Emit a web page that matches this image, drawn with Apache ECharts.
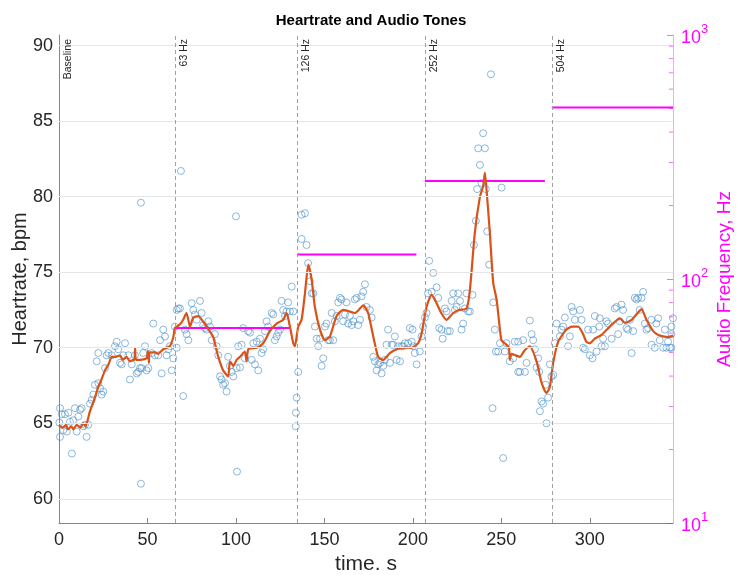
<!DOCTYPE html>
<html><head><meta charset="utf-8">
<script src="https://cdn.jsdelivr.net/npm/echarts@6/dist/echarts.min.js"></script>
<style>html,body{margin:0;padding:0;background:#fff}#c{width:739px;height:575px}</style>
</head><body><div id="c"></div>
<script>
// ---- data ----
const hrTime = [0.2,0.6,0.6,1.5,2.4,3.4,4.4,5.3,6.2,7.3,8.1,9.0,10.0,10.9,11.9,12.8,13.7,14.7,15.6,16.6,17.5,18.5,19.4,20.3,21.3,22.2,22.2,23.2,24.1,25.0,26.0,26.9,27.9,29.8,31.6,32.6,33.5,34.5,35.4,36.3,37.3,39.2,40.1,41.1,42.9,43.9,44.8,45.8,46.3,46.3,46.7,47.6,48.6,49.5,50.5,52.4,53.3,54.2,56.1,57.1,58.0,58.9,59.9,60.8,61.8,62.7,63.7,64.6,65.5,66.5,66.5,67.4,68.4,68.9,70.2,71.2,72.1,73.1,75.0,75.9,76.8,77.8,79.7,80.6,81.5,82.5,83.4,84.4,85.3,86.3,88.1,89.1,90.0,91.0,91.9,92.8,93.8,94.7,95.6,96.6,97.6,98.5,100.0,100.4,100.6,101.3,102.3,103.2,104.1,105.1,106.9,107.9,108.9,109.8,110.7,111.7,112.6,113.6,114.5,115.4,116.4,117.3,118.2,120.2,121.1,122.0,123.0,123.9,124.9,125.8,126.7,127.7,128.6,129.5,130.5,131.5,132.4,133.8,133.9,134.3,135.2,137.1,137.1,139.0,139.9,140.8,141.8,142.8,143.7,144.6,145.6,146.5,147.5,148.4,149.3,150.3,151.2,152.1,153.1,154.1,155.0,155.9,156.9,157.8,158.8,159.7,160.6,161.6,162.5,163.4,164.4,165.4,166.3,167.2,168.2,169.1,170.1,171.0,171.9,172.9,173.8,175.7,176.7,177.6,178.5,179.5,180.4,181.4,182.3,183.2,184.2,185.1,186.0,187.0,188.0,188.9,189.8,190.8,191.7,192.7,193.6,194.5,195.5,197.3,198.3,199.3,199.8,200.2,201.1,202.1,203.9,204.9,205.8,206.8,207.7,208.6,209.2,210.6,211.5,213.4,214.3,214.9,216.2,216.8,218.1,219.0,219.6,220.9,221.9,222.8,223.7,224.7,225.6,226.6,227.5,228.4,229.4,230.3,231.2,232.2,233.7,234.5,235.6,236.3,236.9,237.9,238.8,239.7,240.7,241.2,242.0,243.1,244.1,245.0,245.4,246.3,246.9,248.2,249.2,250.1,251.0,252.0,252.9,254.8,256.7,257.6,259.5,259.5,260.5,262.3,263.3,264.2,266.1,267.1,268.0,268.9,269.9,270.8,271.4,271.8,272.7,273.6,275.0,275.5,276.4,277.4,278.3,279.3,280.2,281.2,283.1,284.0,284.9,285.9,287.7,288.7,289.7,290.6,291.5,294.4,295.3,296.2,297.2,299.0,300.0,301.5,301.9,302.8,303.8,305.3,305.6,306.6,307.5,308.5,309.4,310.3,312.3,314.1,315.1,316.0,316.9,317.9,318.8,320.7,321.6,322.6,323.6,324.5,325.4,326.4,327.3,328.2,329.2,330.1,331.1,332.0,332.9,334.9,334.9,336.7,337.6,338.6,339.5,341.4,342.4,343.3,344.2,345.2,346.1,346.1,346.1,347.0];
const hrValue = [65.05,66.0,64.1,65.6,64.55,65.6,64.45,65.7,65.1,63.0,65.2,66.0,64.45,65.45,65.9,66.0,64.8,64.9,64.1,64.9,66.3,66.55,66.9,67.55,69.1,67.65,69.65,67.3,66.9,67.1,68.65,69.5,69.65,69.5,70.1,70.4,69.9,69.0,68.9,69.5,70.3,69.5,67.9,68.9,69.5,68.3,68.4,68.65,79.6,61.0,68.65,69.65,70.1,68.5,68.65,69.65,71.6,69.5,69.5,70.5,68.3,71.2,70.75,69.5,69.9,70.1,68.5,69.3,71.4,70.0,72.5,72.6,72.6,81.7,66.8,71.2,70.9,70.5,72.95,72.5,72.2,71.85,73.1,72.3,71.5,71.3,71.2,71.75,71.4,70.5,70.9,70.1,69.5,68.1,67.9,67.55,67.65,67.1,69.4,68.8,68.4,68.1,78.7,68.65,61.8,70.1,68.7,70.2,71.3,69.3,71.1,71.0,69.2,70.3,68.9,70.4,68.5,70.6,69.65,69.9,71.1,71.75,71.4,72.3,72.2,70.5,70.75,71.0,71.2,73.1,72.5,72.1,72.4,73.0,72.4,74.05,72.4,64.8,65.7,66.7,68.4,78.8,77.2,78.9,76.8,75.6,74.4,73.6,73.6,71.4,70.6,70.1,70.6,68.8,69.3,71.4,71.6,70.5,70.5,72.3,70.5,71.75,72.1,73.0,73.3,73.2,71.75,72.2,73.0,71.6,72.1,71.5,71.75,73.2,73.3,71.5,71.85,73.4,73.7,74.2,72.7,72.5,72.0,69.4,69.1,68.5,68.9,69.0,68.3,68.8,69.2,70.2,71.2,69.0,70.2,70.2,70.75,69.2,70.1,69.1,70.1,70.1,70.3,70.3,71.3,70.4,71.2,70.1,69.65,68.9,69.75,70.75,71.4,72.0,72.3,73.6,75.75,73.7,74.95,74.0,73.3,71.3,71.2,70.6,72.6,72.4,71.1,71.1,73.1,73.6,72.5,72.7,73.6,73.1,71.2,71.6,72.6,73.6,72.4,72.4,73.5,76.8,78.4,80.5,83.2,82.1,80.9,84.2,83.2,80.5,77.7,75.5,88.1,66.0,73.0,71.2,69.75,69.75,70.3,80.6,62.7,69.75,70.3,69.1,69.3,70.4,70.4,68.4,68.4,70.5,68.4,69.0,71.8,70.9,70.5,69.9,68.7,69.3,68.4,65.8,66.45,66.3,67.55,65.0,66.7,68.9,68.1,68.2,70.3,71.6,70.75,71.2,71.4,72.0,70.1,70.75,72.7,72.4,71.85,72.5,71.85,70.0,69.9,71.2,69.5,69.3,71.2,72.1,69.75,71.4,71.95,70.1,70.6,70.1,71.75,71.6,70.6,72.6,72.7,70.9,71.75,72.85,72.5,71.3,71.2,71.85,69.65,71.1,73.3,73.2,73.3,72.5,73.3,73.7,71.6,71.2,71.3,71.85,70.2,70.0,71.6,71.95,70.5,70.0,71.2,70.0,70.4,70.0,70.0,71.4,70.9,71.95];

const smoothTime = [0,2,4,5,7,8,10,12,13.7,15,17.5,20,22.2,24,26,28,29.8,32,34.5,36,38.2,40,42,42.6,43,43.5,46,49.5,50.3,50.8,51.3,54.2,56,58.9,61,62.7,64.6,65.5,68,70.2,72,73,74,75.9,78.7,81,83.4,87.2,88.5,90,92.8,95.6,96.6,98.5,100.4,102.3,105,106,107,111.7,115.4,119.2,123,126.7,128.6,130.5,132.4,133.3,135.2,137.1,139,140.9,142.8,144.6,147.5,150.3,153.1,156.9,160.6,164.4,167.2,172,174.7,177.6,180.4,183.2,187,190.8,194.5,199.3,203,205,207.7,210.6,213.4,216,219,222.8,226,230.3,232.2,235,237.9,239.7,240.7,241.6,243.5,245.4,247.3,249.2,250.1,252.9,254.3,254.8,255.8,258,260.5,263,266.1,269.9,272.7,275.5,277.4,279.3,282.1,286.8,290,293.4,296.2,298,300,302.8,306.6,311.3,317,319.8,323.6,327,329.2,332,335.8,338.6,341.4,344,347];
const smoothValue = [64.9,64.7,64.9,64.6,64.8,64.6,64.9,64.7,65.0,64.8,65.8,66.6,67.4,67.9,68.5,68.9,69.4,69.4,69.5,69.2,69.4,69.1,69.2,69.2,70.0,69.2,69.2,69.3,69.8,69.0,69.7,69.7,69.6,69.9,70.0,70.1,70.7,71.3,71.5,71.85,72.3,71.9,71.4,72.0,72.1,71.8,71.4,70.7,70.1,69.4,68.5,68.1,69.1,68.8,69.2,69.4,69.75,69.1,69.9,70.0,70.3,71.1,71.6,71.85,72.3,71.4,70.3,70.1,71.4,71.85,73.6,75.5,74.5,72.7,71.2,70.5,70.75,72.1,72.5,72.4,72.3,72.8,72.3,70.75,69.4,69.2,69.65,69.9,70.0,70.0,70.3,71.0,72.7,73.5,72.95,72.3,71.85,72.3,72.5,72.6,73.8,77.6,80.0,80.7,81.6,80.5,77.6,74.3,73.2,71.2,70.5,70.2,70.0,69.2,69.6,69.5,69.4,69.8,70.1,69.1,67.7,67.0,67.4,69.0,70.4,71.2,71.4,71.4,70.9,70.4,70.3,70.6,70.85,71.4,71.95,71.65,71.85,72.3,72.55,71.85,71.1,70.85,70.75,70.7,70.8];

const toneStart = [65.5, 134.5, 206.8, 278.5];
const toneEnd   = [130.5, 202.0, 274.6, 347.0];
const toneFreq  = [63, 126, 252, 504];
const markerTimes  = [0, 65.5, 134.5, 206.8, 278.5];
const markerLabels = ['Baseline', '63 Hz', '126 Hz', '252 Hz', '504 Hz'];
const hrTicks = [60, 65, 70, 75, 80, 85, 90];
const freqMinorTicks = [20,30,40,50,60,70,80,90,200,300,400,500,600,700,800,900];
const xMin = 0, xMax = 347, xStep = 50;
const hrMin = 58.4, hrMax = 90.7;
const freqMin = 10, freqMax = 1000;

// ---- chart ----
const FONT = "'Liberation Sans',Arial,sans-serif";
const INK = '#262626', AXIS = '#858585', MAG = '#FF00FF';
const chart = echarts.init(document.getElementById('c'), null, {renderer: 'canvas'});

const series = [
  { // horizontal grid lines
    type: 'scatter', data: [], z: 0, silent: true,
    markLine: {
      silent: true, symbol: ['none', 'none'], animation: false,
      label: {show: false},
      lineStyle: {type: 'solid', color: '#e6e6e6', width: 1},
      data: hrTicks.map(v => ({yAxis: v}))
    }
  },
  {
    type: 'scatter', name: 'hr', z: 2, silent: true,
    data: hrTime.map((t, i) => [t, hrValue[i]]),
    symbol: 'circle', symbolSize: 7,
    itemStyle: {color: 'rgba(0,0,0,0)', borderColor: '#4a8fc8', borderWidth: 0.8},
    markLine: {
      silent: true, symbol: ['none', 'none'], animation: false,
      lineStyle: {type: [4, 3], color: '#a0a0a0', width: 1},
      label: {show: true, formatter: '{b}', position: 'insideEndBottom', distance: 4,
              fontSize: 10.5, color: INK, fontFamily: FONT},
      data: markerTimes.map((t, i) => ({xAxis: t, name: markerLabels[i],
              lineStyle: i === 0 ? {color: 'rgba(0,0,0,0)'} : undefined}))
    }
  },
  {
    type: 'line', name: 'smooth', z: 4, silent: true,
    data: smoothTime.map((t, i) => [t, smoothValue[i]]),
    showSymbol: false, smooth: 0.2,
    lineStyle: {color: '#D95319', width: 2.2}
  }
];
toneFreq.forEach((f, i) => series.push({
  type: 'line', yAxisIndex: 1, z: 3, silent: true, showSymbol: false,
  data: [[toneStart[i], f], [toneEnd[i], f]],
  lineStyle: {color: MAG, width: 2}
}));
series.push({
  type: 'custom', yAxisIndex: 1, z: 5, silent: true, clip: false,
  data: freqMinorTicks.map(f => [xMax, f]),
  renderItem: (params, api) => {
    const p = api.coord([api.value(0), api.value(1)]);
    return {type: 'line', shape: {x1: p[0] - 4, y1: p[1], x2: p[0], y2: p[1]},
            style: {stroke: MAG, lineWidth: 1, opacity: 0.6}};
  }
});

chart.setOption({
  animation: false,
  backgroundColor: '#fff',
  textStyle: {fontFamily: FONT},
  title: {
    text: 'Heartrate and Audio Tones', left: 366, top: 8, textAlign: 'center',
    textStyle: {fontSize: 15, fontWeight: 'bold', color: '#000', fontFamily: FONT}
  },
  grid: {left: 59, right: 66, top: 35, bottom: 52, outerBoundsMode: 'none', containLabel: false},
  xAxis: {
    type: 'value', min: xMin, max: xMax, interval: xStep,
    axisLine: {lineStyle: {color: AXIS}},
    axisTick: {inside: true, length: 5, lineStyle: {color: AXIS}},
    axisLabel: {color: INK, fontSize: 18, margin: 8, showMaxLabel: false, fontFamily: FONT},
    splitLine: {show: false},
    name: 'time. s', nameLocation: 'middle', nameGap: 31,
    nameTextStyle: {fontSize: 21, color: INK, fontFamily: FONT}
  },
  yAxis: [
    {
      type: 'value', min: hrMin, max: hrMax, position: 'left',
      axisLine: {show: true, lineStyle: {color: AXIS}},
      axisTick: {show: true, inside: true, length: 5, lineStyle: {color: AXIS}, customValues: hrTicks},
      axisLabel: {color: INK, fontSize: 18, margin: 6, customValues: hrTicks, fontFamily: FONT},
      splitLine: {show: false},
      name: 'Heartrate, bpm', nameLocation: 'middle', nameGap: 29, nameRotate: 90,
      nameMoveOverlap: false,
      nameTextStyle: {fontSize: 20, color: INK, fontFamily: FONT}
    },
    {
      type: 'log', logBase: 10, min: freqMin, max: freqMax, position: 'right',
      axisLine: {show: true, lineStyle: {color: '#f5a6f5'}},
      axisTick: {show: true, inside: true, length: 6, lineStyle: {color: MAG, opacity: 0.6}},
      axisLabel: {
        color: MAG, margin: 8, fontFamily: FONT,
        formatter: v => '{b|10}{s|' + Math.round(Math.log10(v)) + '}',
        rich: {
          b: {fontSize: 18, color: MAG, fontFamily: FONT, verticalAlign: 'bottom', lineHeight: 24},
          s: {fontSize: 13, color: MAG, fontFamily: FONT, verticalAlign: 'top', lineHeight: 13}
        }
      },
      splitLine: {show: false},
      name: 'Audio Frequency, Hz', nameLocation: 'middle', nameGap: 42, nameRotate: 90,
      nameMoveOverlap: false,
      nameTextStyle: {fontSize: 19, color: MAG, fontFamily: FONT}
    }
  ],
  series: series
});
</script>
</body></html>
